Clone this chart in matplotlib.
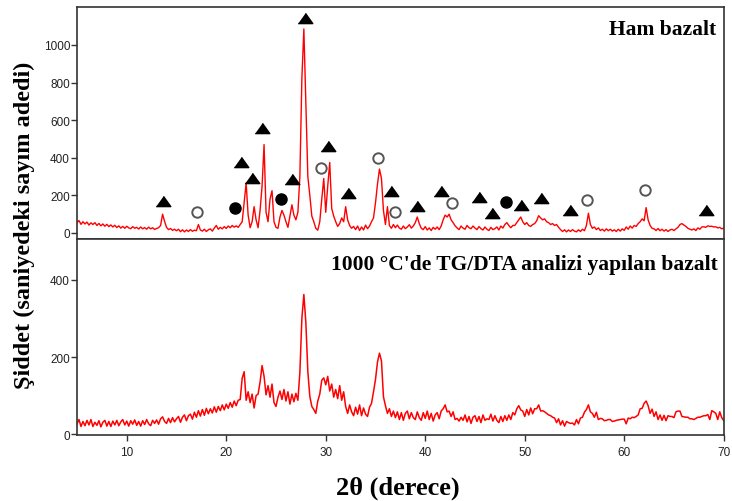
import numpy as np
import matplotlib
matplotlib.use("Agg")
from matplotlib import pyplot as plt

# 2theta sampling (degrees), 0.2 step from 5 to 70
two_theta = np.round(np.arange(5.0, 70.01, 0.2), 1)

# Ham bazalt counts
ham = [
    55, 66, 46, 60, 48, 58, 42, 54, 45, 55,
    40, 51, 38, 48, 36, 46, 34, 43, 32, 41,
    29, 38, 26, 35, 25, 36, 27, 23, 34, 25,
    30, 21, 32, 22, 29, 20, 31, 22, 28, 19,
    24, 28, 40, 100, 62, 30, 18, 24, 14, 20,
    12, 20, 7, 17, 6, 16, 8, 18, 9, 15,
    12, 45, 16, 10, 20, 8, 17, 22, 10, 26,
    40, 20, 30, 22, 34, 24, 37, 28, 40, 31,
    38, 30, 45, 60, 160, 265, 95, 28, 60, 140,
    70, 28, 120, 250, 470, 110, 60, 180, 225, 60,
    30, 25, 85, 120, 95, 60, 30, 90, 150, 95,
    70, 110, 300, 820, 1085, 700, 300, 200, 90, 60,
    25, 15, 60, 180, 290, 110, 250, 375, 130, 90,
    60, 35, 50, 80, 60, 140, 70, 40, 25, 35,
    18, 37, 13, 32, 16, 42, 23, 37, 60, 80,
    160, 260, 340, 290, 120, 45, 140, 40, 25, 45,
    28, 42, 26, 20, 37, 23, 32, 44, 26, 37,
    55, 85, 50, 25, 18, 34, 16, 27, 13, 30,
    20, 32, 18, 37, 70, 95, 85, 100, 70, 55,
    38, 27, 18, 37, 26, 20, 40, 28, 23, 37,
    26, 18, 34, 23, 16, 32, 20, 13, 30, 18,
    23, 32, 16, 37, 26, 45, 55, 40, 28, 40,
    40, 55, 70, 85, 60, 45, 55, 40, 35, 45,
    50, 65, 92, 80, 70, 75, 60, 55, 45, 50,
    40, 45, 30, 18, 8, 17, 6, 16, 8, 18,
    10, 6, 17, 8, 20, 12, 40, 105, 45, 25,
    32, 18, 27, 13, 20, 10, 22, 12, 20, 10,
    17, 8, 20, 10, 22, 14, 32, 20, 37, 26,
    40, 35, 50, 60, 75, 65, 135, 70, 40, 25,
    22, 13, 24, 12, 20, 10, 18, 8, 16, 20,
    13, 22, 30, 45, 50, 42, 35, 25, 20, 16,
    22, 13, 27, 20, 32, 33, 30, 38, 35, 36,
    32, 33, 27, 30, 22, 26,
]

# bazalt after TG/DTA at 1000 C
tgdta = [
    27, 38, 20, 33, 22, 36, 24, 38, 20, 31,
    23, 35, 19, 31, 36, 21, 33, 20, 34, 24,
    36, 22, 32, 38, 24, 34, 21, 35, 26, 37,
    23, 33, 21, 35, 25, 38, 27, 22, 36, 28,
    37, 26, 40, 45, 33, 28, 41, 30, 43, 32,
    40, 46, 31, 44, 50, 35, 48, 52, 39, 57,
    44, 61, 47, 64, 49, 67, 53, 66, 55, 71,
    57, 72, 61, 76, 63, 78, 67, 82, 70, 86,
    74, 88, 90, 145, 162, 88, 110, 82, 104, 68,
    100, 104, 135, 178, 150, 102, 126, 96, 130, 82,
    72, 96, 112, 90, 116, 86, 110, 78, 104, 84,
    106, 88, 160, 300, 362, 290, 162, 98, 72, 64,
    54, 86, 104, 140, 146, 128, 150, 112, 130, 96,
    116, 92, 126, 88, 110, 72, 54, 76, 58, 48,
    70, 52, 76, 48, 68, 52, 46, 70, 80, 110,
    142, 187, 210, 190, 97, 74, 54, 66, 46, 60,
    43, 58, 38, 56, 36, 54, 60, 40, 56, 43,
    38, 58, 43, 36, 56, 41, 60, 38, 54, 34,
    50, 56, 40, 60, 66, 76, 58, 60, 46, 58,
    38, 41, 34, 44, 36, 50, 32, 46, 28, 44,
    48, 33, 46, 30, 50, 36, 40, 38, 52, 34,
    48, 36, 30, 46, 33, 48, 36, 50, 38, 56,
    50, 66, 74, 63, 60, 46, 64, 50, 68, 53,
    66, 66, 76, 60, 61, 58, 54, 50, 48, 44,
    42, 30, 40, 24, 35, 21, 33, 30, 28, 29,
    24, 38, 27, 42, 44, 57, 64, 76, 58, 54,
    44, 57, 38, 41, 40, 35, 36, 38, 38, 33,
    34, 36, 37, 38, 39, 39, 27, 42, 40, 44,
    43, 46, 50, 66, 67, 80, 86, 74, 54, 65,
    46, 58, 38, 50, 36, 49, 35, 48, 46, 46,
    43, 58, 60, 60, 46, 45, 44, 44, 40, 40,
    38, 41, 44, 44, 46, 48, 48, 51, 38, 61,
    58, 54, 38, 58, 43, 35,
]

# phase markers on the raw basalt pattern (2theta, counts)
tri_x = [13.6, 21.5, 22.6, 23.6, 26.6, 27.9, 30.2, 32.2, 36.6, 39.2,
         41.6, 45.4, 46.7, 49.6, 51.6, 54.5, 68.2]
tri_y = [168, 376, 292, 558, 287, 1144, 463, 213, 225, 142,
         225, 193, 105, 149, 188, 124, 124]
ocirc_x = [17.1, 29.5, 35.3, 37.0, 42.7, 56.3, 62.1]
ocirc_y = [113, 344, 401, 113, 160, 177, 229]
fcirc_x = [20.9, 25.5, 48.1]
fcirc_y = [131, 181, 167]

serif = "Liberation Serif"
plt.rcParams["font.family"] = "Liberation Sans"

fig = plt.figure(figsize=(7.32, 5.02), dpi=100)
ax1 = fig.add_axes([0.1052, 0.5219, 0.8835, 0.4622])
ax2 = fig.add_axes([0.1052, 0.1315, 0.8835, 0.3904])

ax1.plot(two_theta, ham, color="#ff0000", lw=1.0)
tri = [(-1, -0.7), (1, -0.7), (0, 0.7)]
ax1.plot(tri_x, tri_y, ls="none", marker=tri, ms=10.5, color="black")
ax1.plot(ocirc_x, ocirc_y, ls="none", marker="o", ms=7.5, mfc="white",
         mec="#555555", mew=1.4)
ax1.plot(fcirc_x, fcirc_y, ls="none", marker="o", ms=8, color="black")

ax2.plot(two_theta, tgdta, color="#ff0000", lw=1.1)

ax1.set_xlim(5, 70)
ax2.set_xlim(5, 70)
ax1.set_ylim(-32, 1202)
ax2.set_ylim(-2, 506)
ax1.set_yticks([0, 200, 400, 600, 800, 1000])
ax2.set_yticks([0, 200, 400])
ax2.set_xticks([10, 20, 30, 40, 50, 60, 70])

for ax in (ax1, ax2):
    for s in ax.spines.values():
        s.set_color("#333333")
        s.set_linewidth(1.2)
    ax.tick_params(axis="y", direction="out", length=4, width=1,
                   color="#333333", labelsize=8.5, labelcolor="#222222", pad=1)
ax1.tick_params(axis="x", bottom=False, labelbottom=False)
ax2.tick_params(axis="x", direction="out", length=4, width=1,
                color="#333333", labelsize=8.5, labelcolor="#222222", pad=4)

ax1.text(0.989, 0.905, "Ham bazalt", transform=ax1.transAxes, ha="right",
         va="center", family=serif, weight="bold", fontsize=15.5)
ax2.text(0.991, 0.872, "1000 °C'de TG/DTA analizi yapılan bazalt",
         transform=ax2.transAxes, ha="right", va="center", family=serif,
         weight="bold", fontsize=15.5)

fig.text(0.544, 0.028, "2θ (derece)", ha="center", va="center",
         family=serif, weight="bold", fontsize=19)
fig.text(0.033, 0.552, "Şiddet (saniyedeki sayım adedi)", rotation=90,
         ha="center", va="center", family=serif, weight="bold", fontsize=17.5)

fig.savefig("out.png", dpi=100)
